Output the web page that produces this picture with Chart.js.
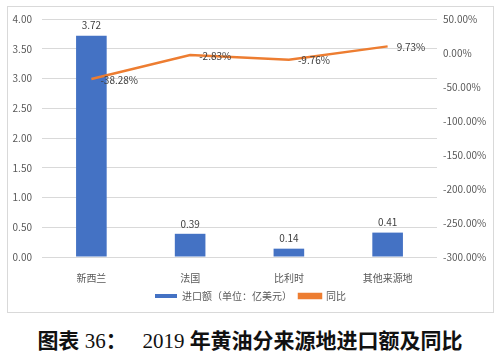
<!DOCTYPE html>
<html>
<head>
<meta charset="utf-8">
<script src="https://cdn.jsdelivr.net/npm/chart.js@4/dist/chart.umd.min.js"></script>
<style>
  html, body { margin:0; padding:0; background:#fff; width:500px; height:360px; overflow:hidden; }
  #box { position:absolute; left:7px; top:6px; width:485px; height:305px; border:1px solid #d9d9d9; }
  #title { position:absolute; left:0; top:326px; width:500px; text-align:center; white-space:pre;
           font-size:21px; line-height:26px; color:#111; }
  #title .cjk { font-family:"Noto Sans CJK SC", sans-serif; font-weight:700; }
  #title .num { font-family:"Liberation Serif", serif; font-weight:400; }
</style>
</head>
<body>
<div id="box"><canvas id="c" width="485" height="305"></canvas></div>
<div id="title"><span class="cjk">图表</span><span class="num"> 36</span><span class="cjk">：</span><span class="num">   2019 </span><span class="cjk">年黄油分来源地进口额及同比</span></div>
<script>
// ── data ──
const ORIGINS = ["新西兰", "法国", "比利时", "其他来源地"];
const AMOUNT  = [3.72, 0.39, 0.14, 0.41];          // 亿美元
const YOY     = [-38.28, -2.83, -9.76, 9.73];      // %

const FONT = '"Noto Sans CJK SC", "Noto Sans", sans-serif';
const GREY = "#595959";
const CLEAR = "rgba(0,0,0,0)";

// value labels: above bars, right of line points
const valueLabels = {
  id: "valueLabels",
  afterDatasetsDraw(chart){
    const ctx = chart.ctx;
    ctx.save();
    ctx.font = `10px ${FONT}`;
    ctx.fillStyle = "#404040";
    ctx.textAlign = "center"; ctx.textBaseline = "bottom";
    chart.getDatasetMeta(1).data.forEach((bar, i) => ctx.fillText(AMOUNT[i].toFixed(2), bar.x, bar.y - 5));
    ctx.textAlign = "left"; ctx.textBaseline = "middle";
    chart.getDatasetMeta(0).data.forEach((pt, i) => ctx.fillText(YOY[i].toFixed(2) + "%", pt.x + 9, pt.y + 1));
    ctx.restore();
  }
};

new Chart(document.getElementById("c"), {
  data: {
    labels: ORIGINS,
    datasets: [
      { type:"line", label:"同比", data: YOY, yAxisID:"y1", order:0,
        borderColor:"#ED7D31", backgroundColor:"#ED7D31", borderWidth:2.5,
        pointRadius:0, tension:0 },
      { type:"bar", label:"进口额（单位：亿美元）", data: AMOUNT, yAxisID:"y", order:1,
        backgroundColor:"#4472C4", barPercentage:0.31, categoryPercentage:1 },
    ],
  },
  options: {
    responsive:false, animation:false,
    layout:{ padding:{ top:12, left:0, right:0, bottom:1 } },
    plugins:{
      tooltip:{ enabled:false },
      legend:{ position:"bottom", reverse:true,
        labels:{ boxWidth:22, boxHeight:4, padding:7, color:GREY, font:{ family:FONT, size:10 } } },
    },
    scales:{
      x:{ grid:{ display:false }, border:{ display:false },
          ticks:{ color:GREY, padding:7, font:{ family:FONT, size:10 } },
          afterFit: s => { s.height = 27; } },
      y:{ position:"left", min:0, max:4, border:{ display:false },
          grid:{ color:"#d9d9d9", tickLength:8, tickColor:CLEAR },
          ticks:{ stepSize:0.5, padding:2, color:GREY, font:{ family:FONT, size:10 }, callback: v => v.toFixed(2) },
          afterFit: s => { s.width = 34; } },
      y1:{ position:"right", min:-300, max:50, border:{ display:false },
          grid:{ drawOnChartArea:false, tickLength:4, tickColor:CLEAR },
          ticks:{ stepSize:50, padding:2, color:GREY, font:{ family:FONT, size:10 }, callback: v => v.toFixed(2) + "%" },
          afterFit: s => { s.width = 56; } },
    },
  },
  plugins:[valueLabels],
});
</script>
</body>
</html>
